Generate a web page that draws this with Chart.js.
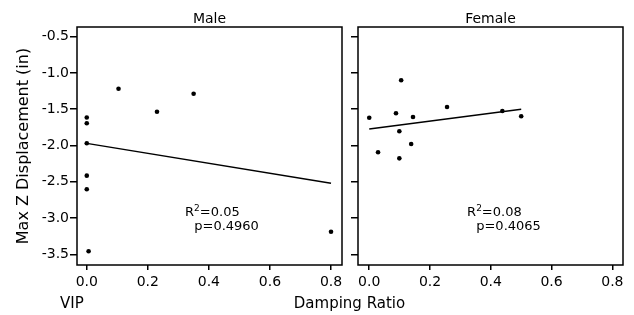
<!DOCTYPE html>
<html><head><meta charset="utf-8">
<script src="https://cdn.jsdelivr.net/npm/chart.js@4.4.0/dist/chart.umd.min.js"></script>
<style>
html,body{margin:0;padding:0;background:#fff;}
#wrap{position:relative;width:634px;height:315px;overflow:hidden;font-family:"DejaVu Sans";background:#fff;}
canvas{position:absolute;top:0;}
#c1{left:0;} #c2{left:350px;}
.lbl{position:absolute;font-size:15px;line-height:15px;color:#000;white-space:nowrap;font-family:"DejaVu Sans";}
#xt{left:349.5px;top:295.6px;transform:translateX(-50%);}
#vip{left:60px;top:295.6px;}
</style></head><body>
<div id="wrap">
<canvas id="c1" width="350" height="315"></canvas>
<canvas id="c2" width="284" height="315"></canvas>
<div class="lbl" id="xt"></div>
<div class="lbl" id="vip"></div>
</div>
<script>
// ---- data ----
const panelTitles = ['Male', 'Female'];
const yAxisTitle = 'Max Z Displacement (in)';
const xAxisTitle = 'Damping Ratio';
const groupLabel = 'VIP';
const xTickValues = [0, 0.2, 0.4, 0.6, 0.8];
const yTickValues = [-0.5, -1.0, -1.5, -2.0, -2.5, -3.0, -3.5];

const maleX = [0.104, 0.23, 0.35, 0, 0, 0, 0, 0, 0.006, 0.80];
const maleY = [-1.217, -1.534, -1.286, -1.614, -1.694, -1.970, -2.416, -2.604, -3.459, -3.189];
const maleFitX = [0, 0.8];
const maleFitY = [-1.97, -2.52];
const maleR2 = '0.05';
const maleP = '0.4960';

const femaleX = [0, 0.088, 0.105, 0.144, 0.256, 0.438, 0.50, 0.099, 0.138, 0.029, 0.099];
const femaleY = [-1.617, -1.556, -1.101, -1.607, -1.469, -1.524, -1.597, -1.804, -1.979, -2.094, -2.177];
const femaleFitX = [0, 0.5];
const femaleFitY = [-1.773, -1.501];
const femaleR2 = '0.08';
const femaleP = '0.4065';

// ---- page text ----
document.getElementById('xt').textContent = xAxisTitle;
document.getElementById('vip').textContent = groupLabel;

Chart.defaults.font.family = 'DejaVu Sans';
Chart.defaults.color = '#000';

const pts = (xs, ys) => xs.map((x, i) => ({x: x, y: ys[i]}));

const framePlugin = {
  id: 'frame',
  afterDatasetsDraw(chart) {
    const {ctx, chartArea: a} = chart;
    ctx.save();
    ctx.strokeStyle = '#000';
    ctx.lineWidth = 1.5;
    ctx.strokeRect(a.left, a.top, a.right - a.left, a.bottom - a.top);
    ctx.restore();
  }
};

const textPlugin = {
  id: 'panelText',
  afterDraw(chart, args, opts) {
    const {ctx, chartArea: a, scales} = chart;
    ctx.save();
    ctx.fillStyle = '#000';
    ctx.font = '14px "DejaVu Sans"';
    ctx.textAlign = 'center';
    ctx.textBaseline = 'alphabetic';
    ctx.fillText(opts.title, (a.left + a.right) / 2, a.top - 4.3);
    ctx.textAlign = 'left';
    // R² line
    let x = scales.x.getPixelForValue(opts.anchorX[0]);
    let y = scales.y.getPixelForValue(opts.anchorY[0]);
    ctx.font = '13px "DejaVu Sans"';
    ctx.fillText('R', x, y);
    x += ctx.measureText('R').width;
    ctx.font = '9px "DejaVu Sans"';
    ctx.fillText('2', x, y - 5);
    x += ctx.measureText('2').width;
    ctx.font = '13px "DejaVu Sans"';
    ctx.fillText('=' + opts.r2, x, y);
    // p line
    ctx.fillText('p=' + opts.p, scales.x.getPixelForValue(opts.anchorX[1]), scales.y.getPixelForValue(opts.anchorY[1]));
    ctx.restore();
  }
};

function makePanel(canvas, cfg) {
  return new Chart(canvas, {
    type: 'scatter',
    data: {
      datasets: [
        {data: pts(cfg.xs, cfg.ys), pointRadius: 2.3, pointBackgroundColor: '#000', pointBorderWidth: 0, showLine: false},
        {data: pts(cfg.fx, cfg.fy), showLine: true, borderColor: '#000', borderWidth: 1.4, pointRadius: 0}
      ]
    },
    options: {
      responsive: false,
      animation: false,
      events: [],
      layout: {padding: {top: 27, right: cfg.padRight, left: 0, bottom: 0}},
      plugins: {
        legend: {display: false},
        tooltip: {enabled: false},
        panelText: {title: cfg.title, r2: cfg.r2, p: cfg.p, anchorX: [0.322, 0.352], anchorY: [-2.972, -3.165]}
      },
      scales: {
        x: {
          type: 'linear', min: cfg.xmin, max: cfg.xmax,
          afterBuildTicks: s => { s.ticks = xTickValues.map(v => ({value: v})); },
          afterFit: s => { s.height = 50; },
          ticks: {font: {size: 14}, color: '#000', padding: 4, maxRotation: 0, autoSkip: false,
                  callback: v => Number(v).toFixed(1)},
          grid: {display: true, drawOnChartArea: false, drawTicks: true, tickLength: 5, color: '#000', lineWidth: 1.5},
          border: {display: false}
        },
        y: {
          type: 'linear', min: -3.648, max: -0.366,
          afterBuildTicks: s => { s.ticks = yTickValues.map(v => ({value: v})); },
          afterFit: s => { s.width = cfg.yWidth; },
          ticks: {display: cfg.yLabels, font: {size: 14}, color: '#000', padding: 1, autoSkip: false,
                  callback: v => Number(v).toFixed(1)},
          grid: {display: true, drawOnChartArea: false, drawTicks: true, tickLength: 7, color: '#000', lineWidth: 1.5},
          border: {display: false},
          title: {display: cfg.yLabels, text: yAxisTitle, font: {size: 16}, color: '#000', padding: {top: 14.5, bottom: 0}}
        }
      }
    },
    plugins: [framePlugin, textPlugin]
  });
}

makePanel(document.getElementById('c1'), {
  xs: maleX, ys: maleY, fx: maleFitX, fy: maleFitY, title: panelTitles[0], r2: maleR2, p: maleP,
  xmin: -0.032, xmax: 0.836, padRight: 8, yWidth: 77, yLabels: true
});
makePanel(document.getElementById('c2'), {
  xs: femaleX, ys: femaleY, fx: femaleFitX, fy: femaleFitY, title: panelTitles[1], r2: femaleR2, p: femaleP,
  xmin: -0.037, xmax: 0.835, padRight: 11, yWidth: 8, yLabels: false
});
</script>
</body></html>
